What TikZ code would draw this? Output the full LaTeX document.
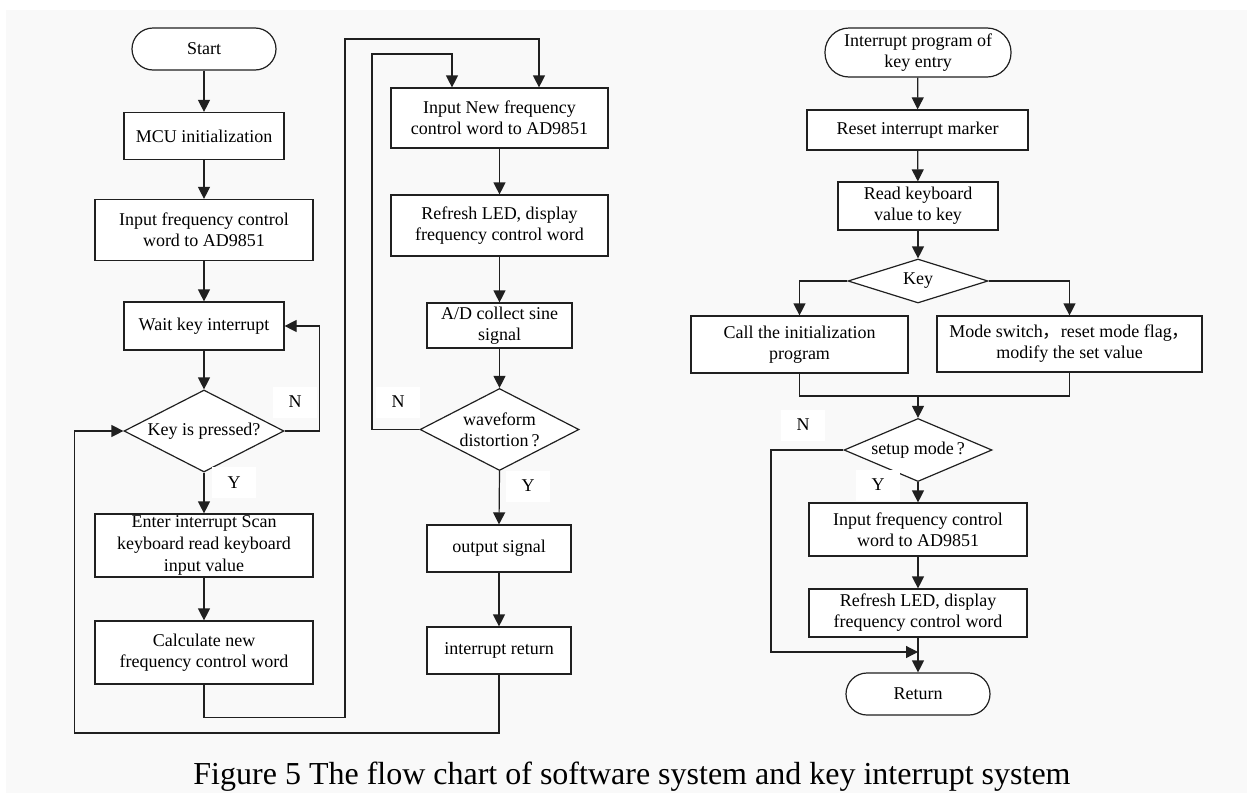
\documentclass[tikz,border=0pt]{standalone}
\usepackage{fontspec}
\setmainfont{Liberation Serif}
\newfontfamily\cjk{Noto Sans CJK SC}
\usetikzlibrary{shapes.geometric,arrows.meta,calc}
\definecolor{bg}{HTML}{F9F9F9}
\definecolor{ln}{HTML}{202020}
\begin{document}
\begin{tikzpicture}[x=0.5pt,y=-0.5pt,
  font=\fontsize{9}{10.5}\selectfont,
  line width=0.6pt,
  box/.style={draw=ln, fill=white, align=center, inner sep=0pt},
  term/.style={box, rounded corners=10.5pt},
  dec/.style={draw=ln, fill=white, diamond, aspect=2, inner sep=0pt, align=center},
  lbl/.style={fill=white, minimum width=22pt, minimum height=15.5pt, inner sep=0pt},
  arr/.style={draw=ln, -{Triangle[length=6pt,width=6pt]}},
  conn/.style={draw=ln}
]
\useasboundingbox (0,0) rectangle (1247,793);
\fill[bg] (6,10) rectangle (1247,793);

% left column
\node[term, minimum width=72pt, minimum height=21pt] (start) at (204,49) {Start};
\node[box, minimum width=80pt, minimum height=23.5pt] (mcu) at (204,136) {MCU initialization};
\node[box, minimum width=109pt, minimum height=30.5pt] (inf) at (204,230) {Input frequency control\\word to AD9851};
\node[box, minimum width=80pt, minimum height=24pt] (wait) at (204,326) {Wait key interrupt};
\node[dec, minimum width=80pt, minimum height=41pt] (kp) at (204,431) {Key is pressed?};
\node[box, minimum width=109pt, minimum height=31.5pt, font=\fontsize{9}{11}\selectfont] (enter) at (204,545.5) {Enter interrupt Scan\\keyboard read keyboard\\input value};
\node[box, minimum width=109pt, minimum height=31.5pt] (calc) at (204,652.5) {Calculate new\\frequency control word};

% middle column
\node[box, minimum width=108.5pt, minimum height=30pt] (inew) at (499.5,118) {Input New frequency\\control word to AD9851};
\node[box, minimum width=108.5pt, minimum height=30.5pt] (led) at (499.5,225.5) {Refresh LED, display\\frequency control word};
\node[box, minimum width=72.5pt, minimum height=22.5pt] (ad) at (499.5,325.5) {A/D collect sine\\signal};
\node[dec, minimum width=79.5pt, minimum height=41pt] (wf) at (499.5,429.5) {waveform\\distortion\,?};
\node[box, minimum width=72pt, minimum height=23.5pt] (out) at (499,548.5) {output signal};
\node[box, minimum width=72pt, minimum height=23.5pt] (iret) at (499,650.5) {interrupt return};

% right column
\node[term, rounded corners=12pt, minimum width=93pt, minimum height=24.5pt] (ient) at (918,52.5) {Interrupt program of\\key entry};
\node[box, minimum width=110.5pt, minimum height=20pt] (reset) at (917.5,130) {Reset interrupt marker};
\node[box, minimum width=80pt, minimum height=24pt] (read) at (918,206) {Read keyboard\\value to key};
\node[dec, minimum width=70pt, minimum height=22pt] (key) at (918,281) {Key};
\node[box, minimum width=108.5pt, minimum height=28.5pt] (call) at (799.5,344.5) {Call the initialization\\program};
\node[box, minimum width=132.5pt, minimum height=28pt] (mode) at (1069.5,344) {Mode switch{\cjk ，}reset mode flag{\cjk ，}\\modify the set value};
\node[dec, minimum width=74pt, minimum height=27pt] (setup) at (918,450) {setup mode\,?};
\node[box, minimum width=109pt, minimum height=26.5pt] (rin) at (918,529.5) {Input frequency control\\word to AD9851};
\node[box, minimum width=109pt, minimum height=24pt] (rled) at (918,613) {Refresh LED, display\\frequency control word};
\node[term, minimum width=72pt, minimum height=21pt] (ret) at (918,694) {Return};

% helper coordinates
\coordinate (outerL) at (345,39);
\coordinate (innerL) at (372,54);
\coordinate (farL) at (74.5,733);
\coordinate (mergeY) at (918,396);
\coordinate (retL) at (771,652);

% left connectors
\draw[arr] (start) -- (mcu);
\draw[arr] (mcu) -- (inf);
\draw[arr] (inf) -- (wait);
\draw[arr] (wait) -- (kp);
\draw[arr] (kp.east) -- ++(35,0) |- (wait.east);
\draw[arr] (kp.south) -- (enter.north);
\draw[arr] (enter) -- (calc);
\draw[arr] (calc.south) -- ++(0,32.5) -| (outerL) -| ($(inew.north)+(39.5,0)$);

% middle connectors
\draw[arr] (inew) -- (led);
\draw[arr] (led) -- (ad);
\draw[arr] (ad) -- (wf);
\draw[arr] (wf.south) -- (out.north);
\draw[arr] (out) -- (iret);
\draw[arr] (wf.west) -| (innerL) -| ($(inew.north)+(-47.5,0)$);
\draw[arr] (iret.south) |- (farL) |- (kp.west);

% right connectors
\draw[arr] (ient) -- (reset);
\draw[arr] (reset) -- (read);
\draw[arr] (read) -- (key);
\draw[arr] (key.west) -| (call.north);
\draw[arr] (key.east) -| (mode.north);
\draw[conn] (call.south) |- (mergeY);
\draw[conn] (mode.south) |- (mergeY);
\draw[arr] (mergeY) -- (setup.north);
\draw[arr] (setup.south) -- (rin.north);
\draw[arr] (rin) -- (rled);
\draw[arr] (rled) -- (ret);
\draw[arr] (setup.west) -| (retL) -- (ret.north |- retL);

% labels
\node[lbl] (n1) at (295,402) {N};
\node[lbl] (y1) at (234,482.5) {Y};
\node[lbl] (n2) at (398,402) {N};
\node[lbl] (y2) at (528,486) {Y};
\node[lbl] (n3) at (803,425) {N};
\node[lbl] (y3) at (878,485) {Y};

% caption
\node (cap) at (632,777) {\fontsize{16}{18}\selectfont Figure 5 The flow chart of software system and key interrupt system};
\end{tikzpicture}
\end{document}
